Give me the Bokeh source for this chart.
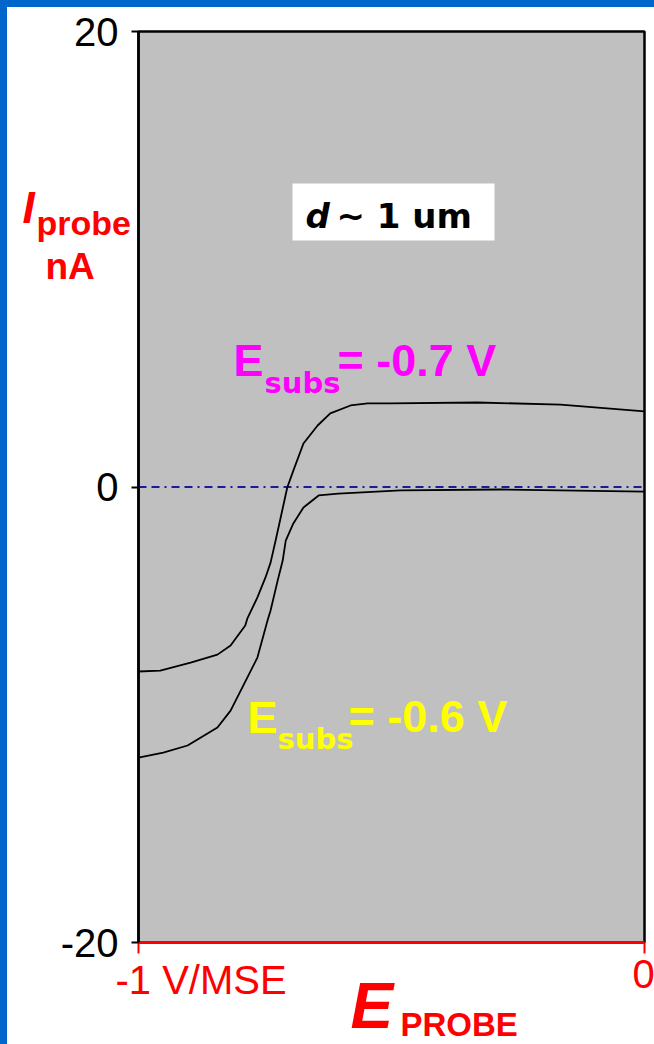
from bokeh.plotting import figure
from bokeh.models import Label, FixedTicker, BoxAnnotation, Div
from bokeh.layouts import row, column
from bokeh.embed import file_html
from bokeh.resources import INLINE

# ---- data ----
e_probe_07 = [-1.0, -0.957, -0.897, -0.844, -0.818, -0.789, -0.785, -0.765, -0.749, -0.739,
              -0.729, -0.719, -0.706, -0.694, -0.674, -0.646, -0.621, -0.581, -0.547, -0.502,
              -0.330, -0.166, 0.0]
i_probe_07 = [-8.10, -8.06, -7.71, -7.36, -6.96, -6.08, -5.78, -4.85, -3.97, -3.32,
              -2.35, -1.34, -0.02, 0.72, 1.91, 2.70, 3.23, 3.58, 3.67, 3.67,
              3.71, 3.62, 3.32]

e_probe_06 = [-1.0, -0.951, -0.903, -0.844, -0.818, -0.785, -0.765, -0.745, -0.739, -0.725,
              -0.715, -0.709, -0.694, -0.674, -0.644, -0.605, -0.482, -0.285, 0.0]
i_probe_06 = [-11.88, -11.66, -11.35, -10.56, -9.82, -8.37, -7.49, -5.86, -5.42, -4.11,
              -3.23, -2.35, -1.60, -0.90, -0.37, -0.29, -0.15, -0.11, -0.20]

x_min, x_max = -1, 0
y_min, y_max = -20, 20
y_ticks = [-20, 0, 20]
y_tick_labels = ["-20", "0", "20"]
x_ticks = [-1, 0]
x_tick_labels = ["-1 V/MSE", "0"]
zero_line_x = [x_min, x_max]
zero_line_y = [0, 0]

# ---- geometry helpers (page pixel -> data) ----
FL, FR, FT, FB = 138, 644, 31, 942   # plot area edges in page pixels
PAGE_W, PAGE_H, STRIP = 654, 1044, 7


def xd(px):
    return x_min + (px - FL) * (x_max - x_min) / (FR - FL)


def yd(py):
    return y_max - (py - FT) * (y_max - y_min) / (FB - FT)


p = figure(width=PAGE_W - STRIP, height=PAGE_H - STRIP,
           x_range=(xd(STRIP), xd(PAGE_W)), y_range=(yd(PAGE_H), yd(STRIP)),
           output_backend="svg", toolbar_location=None,
           min_border_left=0, min_border_right=0, min_border_top=0, min_border_bottom=0,
           background_fill_color="white", border_fill_color="white")
p.title = None
p.grid.visible = False
p.outline_line_color = None

# plot area (gray) with black frame
p.add_layout(BoxAnnotation(left=x_min, right=x_max, bottom=y_min, top=y_max,
                           fill_color="#C0C0C0", fill_alpha=1.0,
                           line_color="black", line_alpha=1.0, line_width=2.5,
                           level="underlay"))

# y axis, drawn at x = -1
p.yaxis.fixed_location = x_min
p.yaxis.bounds = (y_min, y_max)
p.yaxis.ticker = FixedTicker(ticks=y_ticks)
p.yaxis.major_label_overrides = dict(zip(y_ticks, y_tick_labels))
p.yaxis.minor_tick_line_color = None
p.yaxis.major_tick_in = 0
p.yaxis.major_tick_out = 7
p.yaxis.major_tick_line_width = 2
p.yaxis.axis_line_width = 2.5
p.yaxis.major_label_standoff = 13
p.yaxis.major_label_text_font = "Liberation Sans"
p.yaxis.major_label_text_font_size = "40px"
p.yaxis.major_label_text_color = "black"

# x axis, drawn at y = -20
p.xaxis.fixed_location = y_min
p.xaxis.bounds = (x_min, x_max)
p.xaxis.ticker = FixedTicker(ticks=x_ticks)
p.xaxis.minor_tick_line_color = None
p.xaxis.major_tick_in = 0
p.xaxis.major_tick_out = 11
p.xaxis.major_tick_line_color = "red"
p.xaxis.major_tick_line_width = 2
p.xaxis.axis_line_color = "red"
p.xaxis.axis_line_width = 3
p.xaxis.major_label_overrides = {t: "" for t in x_ticks}

# zero line (only across the plot area)
p.line(zero_line_x, zero_line_y, line_color="#1A1A9A", line_width=2,
       line_dash="8 5 8 5 2 5")

# curves
p.line(e_probe_07, i_probe_07, line_color="black", line_width=1.8)
p.line(e_probe_06, i_probe_06, line_color="black", line_width=1.8)


def lab(text, px, py, size, color="black", style="normal", font="Liberation Sans", align="left"):
    # py = baseline in page pixels; label drawn with middle baseline
    p.add_layout(Label(x=xd(px), y=yd(py - 0.35 * size), text=text, text_font=font,
                       text_font_size=f"{size}px", text_font_style=style,
                       text_color=color, text_align=align, text_baseline="middle"))


# x tick labels
lab(x_tick_labels[0], 115, 993, 40, color="red")
lab(x_tick_labels[1], 643, 987, 40, color="red", align="center")

# y axis title
lab("I", 22, 222, 44, color="red", style="bold italic")
lab("probe", 36, 234, 34, color="red", style="bold")
lab("nA", 45, 279, 37, color="red", style="bold")

# x axis title
lab("E", 350, 1028, 64, color="red", style="bold italic")
lab("PROBE", 400, 1036, 33, color="red", style="bold")

# d ~ 1 um box
p.add_layout(BoxAnnotation(left=xd(292), right=xd(494), top=yd(183), bottom=yd(240),
                           fill_color="white", fill_alpha=1.0, line_color=None))
lab("d", 305, 227, 34, style="bold italic", font="DejaVu Sans")
lab("~ 1 um", 336, 227, 34, style="bold", font="DejaVu Sans")

# E_subs labels
lab("E", 233, 376, 45, color="#FF00FF", style="bold")
lab("subs", 264, 393, 29, color="#FF00FF", style="bold", font="DejaVu Sans")
lab("= -0.7 V", 337, 376, 45, color="#FF00FF", style="bold")

lab("E", 247, 733, 45, color="#FFFF00", style="bold")
lab("subs", 277, 749, 29, color="#FFFF00", style="bold", font="DejaVu Sans")
lab("= -0.6 V", 348, 732, 45, color="#FFFF00", style="bold")

left_strip = Div(width=STRIP, height=PAGE_H, margin=0, styles={"background-color": "#0066CC"})
top_strip = Div(width=PAGE_W - STRIP, height=STRIP, margin=0, styles={"background-color": "#0066CC"})
layout = row(left_strip, column(top_strip, p, spacing=0), spacing=0)

open("out.html", "w").write(file_html(layout, INLINE))
